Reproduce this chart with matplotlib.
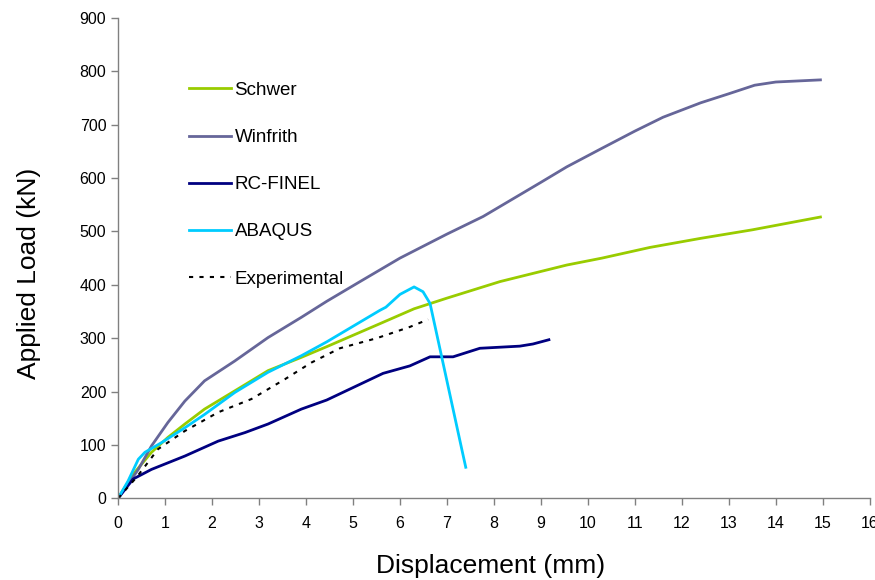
import matplotlib
matplotlib.use("Agg")
import matplotlib.pyplot as plt

plt.rcParams['font.family'] = ['Liberation Sans', 'DejaVu Sans']

# Load-displacement curves (displacement in mm, load in kN)
schwer_x = [0, 0.32, 0.71, 1.06, 1.42, 1.84, 2.48, 3.19, 3.9, 4.44, 5.57, 6.3, 7.0, 8.13, 9.55, 10.3, 11.32, 12.4, 13.5, 14.95]
schwer_y = [0, 45, 86, 114, 139, 167, 201, 239, 264, 284, 327, 355, 375, 406, 437, 450, 470, 487, 503, 527]

winfrith_x = [0, 0.43, 0.71, 1.06, 1.42, 1.84, 2.48, 3.19, 3.9, 4.44, 5.15, 6.0, 7.0, 7.77, 9.0, 9.55, 10.26, 11.0, 11.6, 12.4, 13.0, 13.55, 14.0, 14.95]
winfrith_y = [0, 54, 98, 142, 182, 220, 257, 301, 339, 369, 406, 450, 495, 528, 592, 621, 654, 688, 714, 741, 758, 774, 780, 784]

rcfinel_x = [0, 0.32, 0.71, 1.42, 2.13, 2.7, 3.19, 3.9, 4.44, 5.64, 6.21, 6.64, 7.13, 7.7, 8.55, 8.83, 9.17]
rcfinel_y = [0, 36, 54, 79, 107, 123, 139, 167, 184, 234, 248, 265, 265, 281, 285, 289, 297]

abaqus_x = [0, 0.21, 0.43, 0.57, 0.92, 1.42, 1.84, 2.48, 3.19, 3.9, 4.44, 5.57, 5.7, 6.0, 6.3, 6.49, 6.64, 6.91, 7.32, 7.4]
abaqus_y = [0, 32, 73, 86, 104, 132, 157, 198, 236, 267, 293, 352, 358, 382, 396, 387, 365, 256, 90, 58]

exp_x = [0, 0.4, 0.85, 1.42, 2.13, 2.84, 3.55, 4.11, 4.72, 5.51, 6.21, 6.6]
exp_y = [0, 40, 92, 126, 161, 186, 223, 254, 281, 300, 321, 335]

fig = plt.figure(figsize=(8.75, 5.8), dpi=100)
ax = fig.add_axes([0.135, 0.141, 0.859, 0.828])

lw = 2.0
ax.plot(schwer_x, schwer_y, color='#99CC00', lw=lw, label='Schwer')
ax.plot(winfrith_x, winfrith_y, color='#666699', lw=lw, label='Winfrith')
ax.plot(rcfinel_x, rcfinel_y, color='#000080', lw=lw, label='RC-FINEL')
ax.plot(abaqus_x, abaqus_y, color='#00CCFF', lw=lw, label='ABAQUS')
ax.plot(exp_x, exp_y, color='black', lw=1.5, ls=(0, (2, 3)), label='Experimental')

ax.set_xlim(0, 16)
ax.set_ylim(0, 900)
ax.set_xticks(range(0, 17))
ax.set_yticks(range(0, 901, 100))

for s in ['top', 'right']:
    ax.spines[s].set_visible(False)
for s in ['left', 'bottom']:
    ax.spines[s].set_color('#808080')
    ax.spines[s].set_linewidth(1.0)
ax.tick_params(axis='both', colors='#808080', labelcolor='black', labelsize=11.5, length=5, width=1.0)
ax.tick_params(axis='x', pad=8)

ax.set_xlabel('Displacement (mm)', fontsize=19)
ax.set_ylabel('Applied Load (kN)', fontsize=19)
ax.xaxis.set_label_coords(0.495, -0.116)
ax.yaxis.set_label_coords(-0.102, 0.469)

ax.legend(loc='upper left', bbox_to_anchor=(0.205, 0.875), bbox_transform=fig.transFigure,
          frameon=False, fontsize=13.5, handlelength=2.24, handletextpad=0.2,
          labelspacing=1.6, borderpad=0)

fig.savefig('out.png', dpi=100)
